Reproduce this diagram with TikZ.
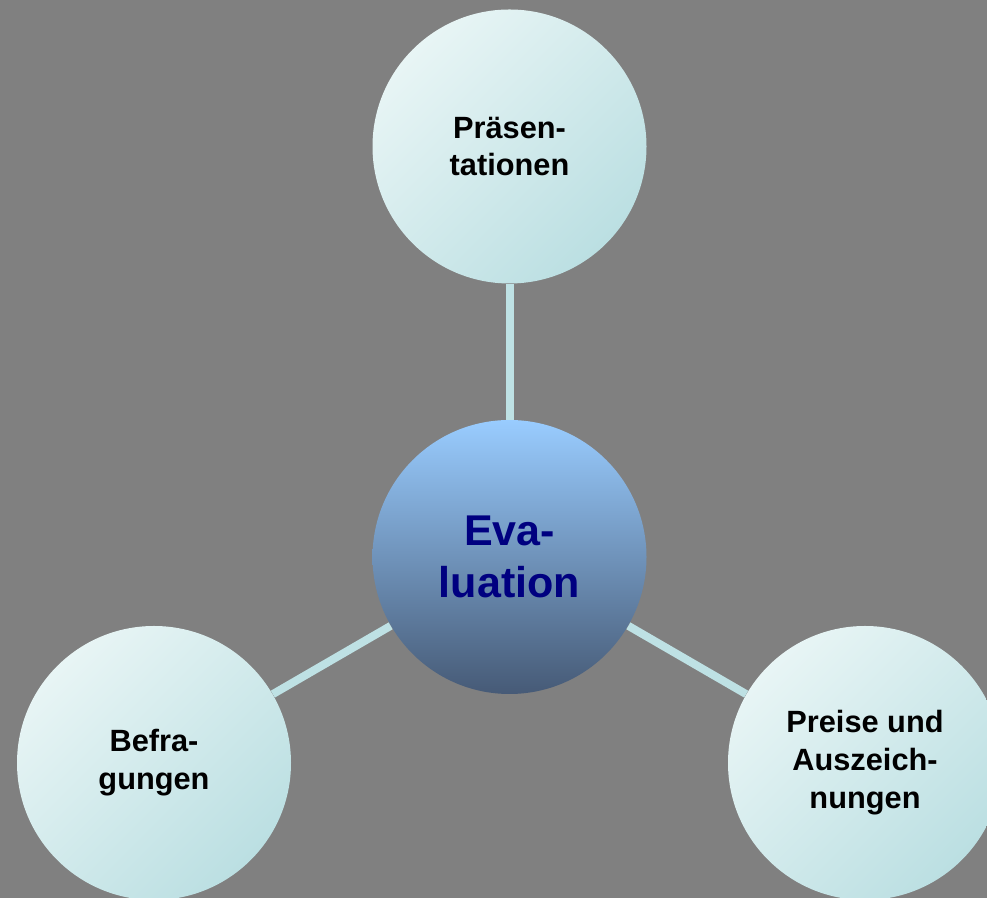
\documentclass[tikz,border=0pt]{standalone}
\usepackage{fontspec}
\setmainfont{Liberation Sans}
\usetikzlibrary{calc}

\definecolor{bggray}{HTML}{808080}
\definecolor{bubblelight}{HTML}{E8F5F5}
\definecolor{bubbledark}{HTML}{BBDFE2}
\definecolor{hubtop}{HTML}{99CCFF}
\definecolor{hubbottom}{HTML}{465A76}
\definecolor{hubtext}{HTML}{000080}
\definecolor{spokecol}{HTML}{BEE1E4}

\tikzset{
	bubble/.style={circle, minimum size=5.48cm, inner sep=0pt, align=center,
		top color=bubblelight, bottom color=bubbledark, shading angle=45,
		font=\fontsize{17.5}{21.6}\selectfont\bfseries},
	hub/.style={circle, minimum size=5.48cm, inner sep=0pt, align=center,
		top color=hubtop, bottom color=hubbottom, text=hubtext,
		font=\fontsize{24.5}{29.6}\selectfont\bfseries},
	spoke/.style={line width=0.16cm, color=spokecol}
}

\begin{document}
\begin{tikzpicture}
		%%%%% START %%%%%
		
		\useasboundingbox (0, 0) rectangle (19.74, 17.96);
		\clip (0, 0) rectangle (19.74, 17.96);
		\fill[bggray] (0, 0) rectangle (19.74, 17.96);
		
		\node[hub] (eval) at (10.19, 6.82) {Eva-\\luation};
		
		\node[bubble] (praes) at (10.19, 15.03) {Präsen-\\tationen};
		\node[bubble] (befr) at (3.08, 2.70) {Befra-\\gungen};
		\node[bubble] (preise) at (17.30, 2.70) {Preise und\\Auszeich-\\nungen};
		
		\draw[spoke] (eval) -- (praes);
		\draw[spoke] (eval) -- (befr);
		\draw[spoke] (eval) -- (preise);
		
		%%%%% END %%%%%
	\end{tikzpicture}
\end{document}
